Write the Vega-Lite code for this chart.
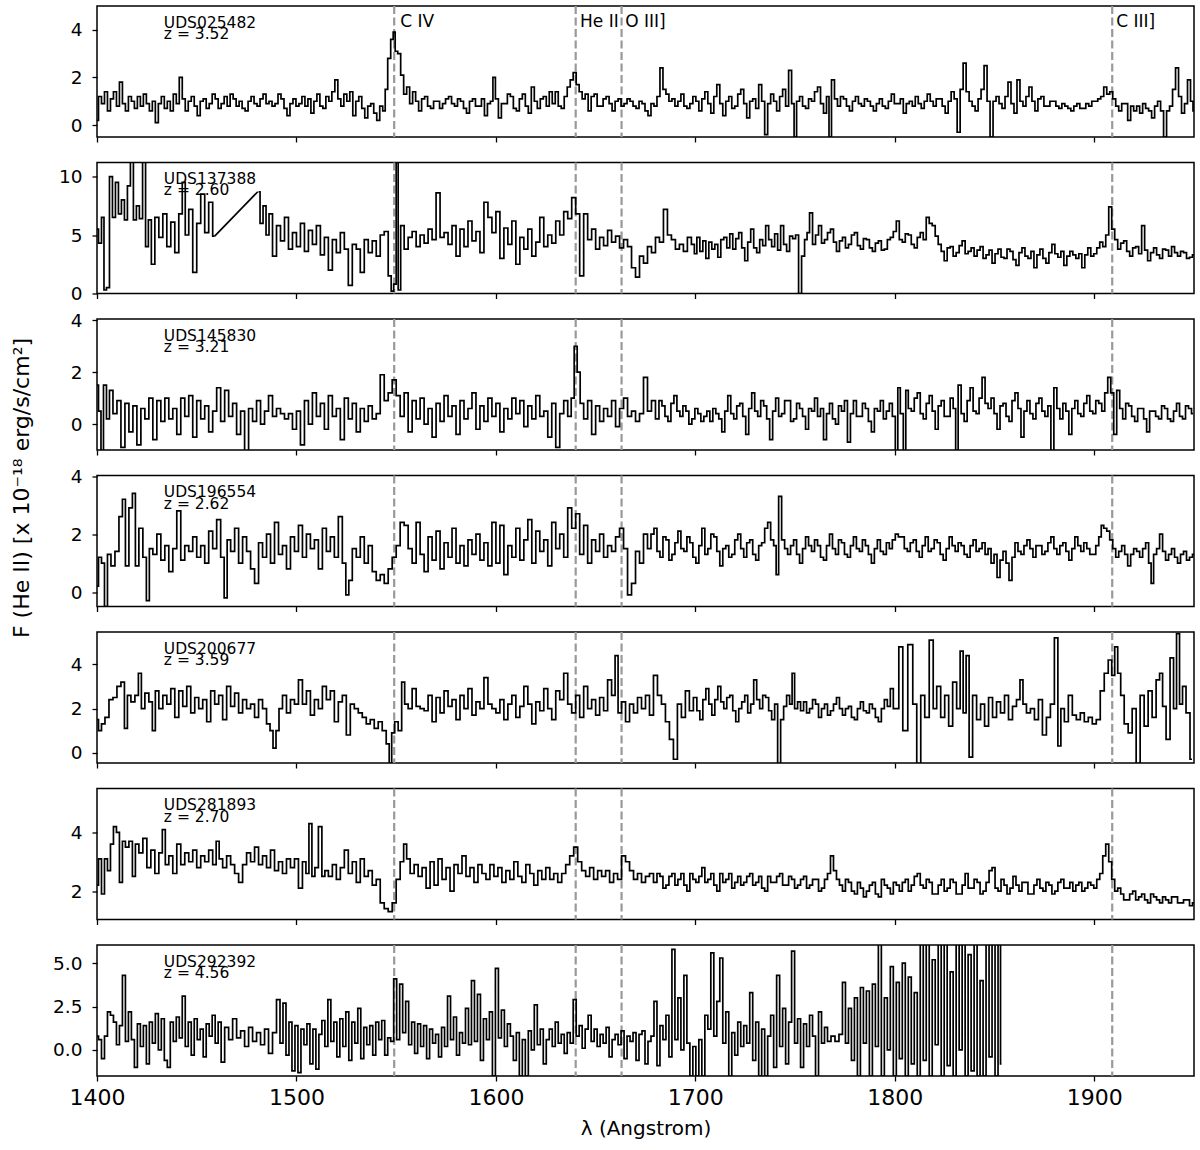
{
"$schema":"https://vega.github.io/schema/vega-lite/v6.json",
"padding":{"left":9,"top":4,"right":5,"bottom":5},
"spacing":25.5,
"bounds":"flush",
"config":{"font":"DejaVu Sans","view":{"stroke":"black","strokeWidth":1.5},
"axis":{"domain":false,"grid":false,"tickColor":"black","tickWidth":1.3,"tickSize":5,"labelColor":"black","labelFont":"DejaVu Sans","titleFont":"DejaVu Sans","titleFontWeight":"normal","titleColor":"black","labelFlush":false,"labelOverlap":false},
"axisY":{"labelFontSize":18.5,"labelPadding":10},
"axisX":{"labelFontSize":22,"labelPadding":6,"format":"d"},
"rule":{"color":"#999999","strokeWidth":2.2,"strokeDash":[8,3.5]},
"text":{"font":"DejaVu Sans","color":"black"}},
"datasets":{
"s1":[{"x":1400,"y":0.2},{"x":1401.5,"y":1.2},{"x":1403,"y":0.9},{"x":1404.5,"y":1.4},{"x":1406,"y":0.6},{"x":1407.5,"y":1.1},{"x":1409,"y":1.4},{"x":1410.5,"y":0.8},{"x":1412,"y":1.8},{"x":1413.5,"y":0.9},{"x":1415,"y":0.6},{"x":1416.5,"y":1.2},{"x":1418,"y":1.0},{"x":1419.5,"y":0.7},{"x":1421,"y":1.2},{"x":1422.5,"y":0.8},{"x":1424,"y":1.3},{"x":1425.5,"y":0.9},{"x":1427,"y":0.6},{"x":1428.5,"y":1.0},{"x":1430,"y":0.1},{"x":1431.5,"y":0.9},{"x":1433,"y":1.2},{"x":1434.5,"y":0.7},{"x":1436,"y":1.0},{"x":1437.5,"y":0.6},{"x":1439,"y":1.3},{"x":1440.5,"y":0.9},{"x":1442,"y":2.0},{"x":1443.5,"y":1.1},{"x":1445,"y":0.6},{"x":1446.5,"y":1.0},{"x":1448,"y":1.2},{"x":1449.5,"y":0.8},{"x":1451,"y":0.4},{"x":1452.5,"y":1.0},{"x":1454,"y":1.1},{"x":1455.5,"y":0.7},{"x":1457,"y":0.9},{"x":1458.5,"y":1.3},{"x":1460,"y":1.1},{"x":1461.5,"y":0.7},{"x":1463,"y":0.9},{"x":1464.5,"y":1.2},{"x":1466,"y":0.8},{"x":1467.5,"y":1.3},{"x":1469,"y":1.1},{"x":1470.5,"y":0.8},{"x":1472,"y":1.0},{"x":1473.5,"y":0.7},{"x":1475,"y":0.6},{"x":1476.5,"y":1.0},{"x":1478,"y":1.2},{"x":1479.5,"y":0.9},{"x":1481,"y":0.8},{"x":1482.5,"y":1.1},{"x":1484,"y":1.3},{"x":1485.5,"y":0.9},{"x":1487,"y":1.0},{"x":1488.5,"y":0.8},{"x":1490,"y":0.9},{"x":1491.5,"y":1.3},{"x":1493,"y":1.1},{"x":1494.5,"y":0.7},{"x":1496,"y":0.4},{"x":1497.5,"y":0.9},{"x":1499,"y":1.1},{"x":1500.5,"y":0.8},{"x":1502,"y":0.9},{"x":1503.5,"y":1.2},{"x":1505,"y":0.8},{"x":1506.5,"y":1.1},{"x":1508,"y":0.5},{"x":1509.5,"y":1.0},{"x":1511,"y":1.3},{"x":1512.5,"y":0.8},{"x":1514,"y":0.7},{"x":1515.5,"y":1.2},{"x":1517,"y":1.0},{"x":1518.5,"y":1.4},{"x":1520,"y":1.9},{"x":1521.5,"y":1.1},{"x":1523,"y":0.8},{"x":1524.5,"y":1.3},{"x":1526,"y":1.0},{"x":1527.5,"y":1.4},{"x":1529,"y":0.4},{"x":1530.5,"y":1.0},{"x":1532,"y":1.2},{"x":1533.5,"y":0.7},{"x":1535,"y":0.3},{"x":1536.5,"y":0.8},{"x":1538,"y":0.9},{"x":1539.5,"y":0.5},{"x":1541,"y":0.2},{"x":1542.5,"y":0.8},{"x":1544,"y":0.6},{"x":1545,"y":1.5},{"x":1546.5,"y":2.8},{"x":1548,"y":3.6},{"x":1549,"y":3.9},{"x":1550,"y":3.1},{"x":1551.5,"y":3.0},{"x":1553,"y":2.1},{"x":1554.5,"y":1.3},{"x":1556,"y":1.6},{"x":1557.5,"y":0.9},{"x":1559,"y":1.4},{"x":1560.5,"y":1.0},{"x":1562,"y":0.6},{"x":1563.5,"y":1.1},{"x":1565,"y":1.2},{"x":1566.5,"y":0.8},{"x":1568,"y":0.7},{"x":1569.5,"y":1.0},{"x":1571,"y":1.0},{"x":1572.5,"y":0.7},{"x":1574,"y":0.9},{"x":1575.5,"y":1.1},{"x":1577,"y":1.2},{"x":1578.5,"y":0.9},{"x":1580,"y":0.8},{"x":1581.5,"y":1.1},{"x":1583,"y":1.0},{"x":1584.5,"y":0.7},{"x":1586,"y":0.5},{"x":1587.5,"y":1.0},{"x":1589,"y":1.1},{"x":1590.5,"y":0.8},{"x":1592,"y":0.8},{"x":1593.5,"y":1.1},{"x":1595,"y":0.4},{"x":1596.5,"y":0.9},{"x":1598,"y":1.0},{"x":1599,"y":2.0},{"x":1600.5,"y":1.1},{"x":1602,"y":0.3},{"x":1603.5,"y":0.9},{"x":1605,"y":0.9},{"x":1606.5,"y":1.3},{"x":1608,"y":1.2},{"x":1609.5,"y":0.7},{"x":1611,"y":0.6},{"x":1612.5,"y":1.1},{"x":1614,"y":1.3},{"x":1615.5,"y":0.8},{"x":1617,"y":0.5},{"x":1618.5,"y":1.6},{"x":1620,"y":1.0},{"x":1621.5,"y":0.7},{"x":1623,"y":1.1},{"x":1624.5,"y":1.2},{"x":1626,"y":0.8},{"x":1627.5,"y":1.4},{"x":1629,"y":0.9},{"x":1630.5,"y":1.4},{"x":1632,"y":0.8},{"x":1633.5,"y":0.7},{"x":1635,"y":1.2},{"x":1636.5,"y":1.6},{"x":1638,"y":1.9},{"x":1639.5,"y":2.2},{"x":1641,"y":1.7},{"x":1642.5,"y":1.4},{"x":1644,"y":1.1},{"x":1645.5,"y":1.3},{"x":1647,"y":0.6},{"x":1648.5,"y":1.2},{"x":1650,"y":1.3},{"x":1651.5,"y":0.8},{"x":1653,"y":0.8},{"x":1654.5,"y":1.1},{"x":1656,"y":1.2},{"x":1657.5,"y":0.9},{"x":1659,"y":0.6},{"x":1660.5,"y":1.0},{"x":1662,"y":1.1},{"x":1663.5,"y":0.8},{"x":1665,"y":0.9},{"x":1666.5,"y":1.1},{"x":1668,"y":1.0},{"x":1669.5,"y":0.8},{"x":1671,"y":0.7},{"x":1672.5,"y":1.0},{"x":1674,"y":0.9},{"x":1675.5,"y":0.6},{"x":1677,"y":0.4},{"x":1678.5,"y":0.9},{"x":1680,"y":0.8},{"x":1681.5,"y":1.2},{"x":1683,"y":2.4},{"x":1684.5,"y":1.5},{"x":1686,"y":1.3},{"x":1687.5,"y":1.0},{"x":1689,"y":1.1},{"x":1690.5,"y":0.8},{"x":1692,"y":1.0},{"x":1693.5,"y":1.3},{"x":1695,"y":0.8},{"x":1696.5,"y":0.7},{"x":1698,"y":0.9},{"x":1699.5,"y":1.2},{"x":1701,"y":1.0},{"x":1702.5,"y":0.6},{"x":1704,"y":1.1},{"x":1705.5,"y":1.4},{"x":1707,"y":0.9},{"x":1708.5,"y":0.5},{"x":1710,"y":1.2},{"x":1711.5,"y":1.7},{"x":1713,"y":0.9},{"x":1714.5,"y":0.4},{"x":1716,"y":1.0},{"x":1717.5,"y":1.2},{"x":1719,"y":0.7},{"x":1720.5,"y":0.8},{"x":1722,"y":1.3},{"x":1723.5,"y":1.5},{"x":1725,"y":0.9},{"x":1726.5,"y":0.3},{"x":1728,"y":1.0},{"x":1729.5,"y":1.1},{"x":1731,"y":0.7},{"x":1732.5,"y":1.7},{"x":1734,"y":1.0},{"x":1735.5,"y":-0.4},{"x":1737,"y":0.9},{"x":1738.5,"y":1.3},{"x":1740,"y":1.0},{"x":1741.5,"y":0.6},{"x":1743,"y":1.2},{"x":1744.5,"y":1.5},{"x":1746,"y":0.8},{"x":1747.5,"y":2.3},{"x":1749,"y":0.9},{"x":1750,"y":-0.5},{"x":1751.5,"y":1.0},{"x":1753,"y":1.2},{"x":1754.5,"y":0.8},{"x":1756,"y":0.7},{"x":1757.5,"y":1.1},{"x":1759,"y":1.0},{"x":1760.5,"y":1.4},{"x":1762,"y":1.6},{"x":1763.5,"y":0.9},{"x":1765,"y":0.5},{"x":1766.5,"y":1.2},{"x":1767.5,"y":-0.5},{"x":1769,"y":1.9},{"x":1770.5,"y":1.1},{"x":1772,"y":0.8},{"x":1773.5,"y":1.2},{"x":1775,"y":1.1},{"x":1776.5,"y":0.8},{"x":1778,"y":0.6},{"x":1779.5,"y":1.0},{"x":1781,"y":1.2},{"x":1782.5,"y":0.9},{"x":1784,"y":0.8},{"x":1785.5,"y":1.1},{"x":1787,"y":1.0},{"x":1788.5,"y":0.8},{"x":1790,"y":0.6},{"x":1791.5,"y":0.9},{"x":1793,"y":1.1},{"x":1794.5,"y":0.8},{"x":1796,"y":0.7},{"x":1797.5,"y":1.0},{"x":1799,"y":1.3},{"x":1800.5,"y":0.9},{"x":1802,"y":0.9},{"x":1803.5,"y":1.1},{"x":1805,"y":0.5},{"x":1806.5,"y":0.9},{"x":1808,"y":1.0},{"x":1809.5,"y":0.8},{"x":1811,"y":1.2},{"x":1812.5,"y":0.9},{"x":1814,"y":0.7},{"x":1815.5,"y":1.0},{"x":1817,"y":1.3},{"x":1818.5,"y":1.0},{"x":1820,"y":0.8},{"x":1821.5,"y":1.1},{"x":1823,"y":1.1},{"x":1824.5,"y":0.8},{"x":1826,"y":0.5},{"x":1827.5,"y":1.0},{"x":1829,"y":1.4},{"x":1830.5,"y":1.1},{"x":1832,"y":-0.3},{"x":1833.5,"y":1.5},{"x":1835,"y":2.6},{"x":1836.5,"y":1.4},{"x":1838,"y":1.0},{"x":1839.5,"y":0.8},{"x":1841,"y":0.6},{"x":1842.5,"y":1.1},{"x":1844,"y":1.5},{"x":1845.5,"y":2.5},{"x":1847,"y":1.0},{"x":1848.5,"y":-0.5},{"x":1850,"y":1.0},{"x":1851.5,"y":1.2},{"x":1853,"y":0.9},{"x":1854.5,"y":0.7},{"x":1856,"y":1.2},{"x":1857.5,"y":1.8},{"x":1859,"y":0.9},{"x":1860.5,"y":0.5},{"x":1862,"y":1.9},{"x":1863.5,"y":1.0},{"x":1865,"y":0.8},{"x":1866.5,"y":1.2},{"x":1868,"y":1.6},{"x":1869.5,"y":1.0},{"x":1871,"y":0.6},{"x":1872.5,"y":1.1},{"x":1874,"y":1.2},{"x":1875.5,"y":0.8},{"x":1877,"y":0.8},{"x":1878.5,"y":1.0},{"x":1880,"y":1.0},{"x":1881.5,"y":0.8},{"x":1883,"y":0.7},{"x":1884.5,"y":0.9},{"x":1886,"y":0.8},{"x":1887.5,"y":0.7},{"x":1889,"y":0.6},{"x":1890.5,"y":0.8},{"x":1892,"y":0.9},{"x":1893.5,"y":0.7},{"x":1895,"y":0.7},{"x":1896.5,"y":0.9},{"x":1898,"y":0.8},{"x":1899.5,"y":1.0},{"x":1901,"y":1.0},{"x":1902.5,"y":1.1},{"x":1904,"y":1.2},{"x":1905.5,"y":1.6},{"x":1907,"y":1.3},{"x":1908.5,"y":1.4},{"x":1910,"y":1.1},{"x":1911.5,"y":0.8},{"x":1913,"y":0.6},{"x":1914.5,"y":0.9},{"x":1916,"y":0.9},{"x":1917.5,"y":0.2},{"x":1919,"y":0.8},{"x":1920.5,"y":0.6},{"x":1922,"y":0.8},{"x":1923.5,"y":0.5},{"x":1925,"y":0.9},{"x":1926.5,"y":0.7},{"x":1928,"y":0.6},{"x":1929.5,"y":0.3},{"x":1931,"y":0.8},{"x":1932.5,"y":1.0},{"x":1934,"y":0.6},{"x":1935.5,"y":-0.5},{"x":1937,"y":0.6},{"x":1938.5,"y":0.8},{"x":1940,"y":1.5},{"x":1941.5,"y":2.4},{"x":1943,"y":1.2},{"x":1944.5,"y":0.5},{"x":1946,"y":0.9},{"x":1947.5,"y":1.9},{"x":1949,"y":1.0},{"x":1950,"y":0.6}],
"s2a":[{"x":1400,"y":5.5},{"x":1401.5,"y":4.3},{"x":1403,"y":6.5},{"x":1404,"y":0.3},{"x":1405.5,"y":0.5},{"x":1407,"y":10.0},{"x":1408.5,"y":6.5},{"x":1410,"y":9.5},{"x":1411.5,"y":6.8},{"x":1413,"y":8.0},{"x":1414.5,"y":6.3},{"x":1416,"y":9.2},{"x":1417.5,"y":11.5},{"x":1419,"y":6.3},{"x":1420.5,"y":7.5},{"x":1422,"y":6.4},{"x":1423.7,"y":11.5},{"x":1425,"y":4.0},{"x":1426.5,"y":6.3},{"x":1428,"y":2.5},{"x":1430,"y":6.5},{"x":1432,"y":4.8},{"x":1434,"y":6.8},{"x":1436,"y":4.0},{"x":1438,"y":6.1},{"x":1440,"y":3.5},{"x":1442,"y":6.8},{"x":1443.5,"y":9.5},{"x":1445,"y":5.0},{"x":1447,"y":7.2},{"x":1449,"y":1.8},{"x":1451,"y":6.0},{"x":1453,"y":8.5},{"x":1455,"y":5.2},{"x":1457,"y":7.8},{"x":1459,"y":4.9}],
"s2g":[{"x":1459,"y":4.9},{"x":1480.6,"y":8.7}],
"s2b":[{"x":1481,"y":8.7},{"x":1482.5,"y":6.0},{"x":1484,"y":7.5},{"x":1485.5,"y":5.0},{"x":1487,"y":6.8},{"x":1489,"y":3.2},{"x":1491,"y":5.8},{"x":1493,"y":4.5},{"x":1495,"y":6.5},{"x":1497,"y":3.8},{"x":1499,"y":5.2},{"x":1501,"y":4.0},{"x":1503,"y":6.0},{"x":1505,"y":3.6},{"x":1507,"y":5.4},{"x":1509,"y":4.2},{"x":1511,"y":5.8},{"x":1513,"y":3.3},{"x":1515,"y":4.8},{"x":1517,"y":2.0},{"x":1519,"y":4.6},{"x":1521,"y":3.5},{"x":1523,"y":5.2},{"x":1525,"y":3.8},{"x":1527,"y":0.7},{"x":1529,"y":4.2},{"x":1531,"y":3.8},{"x":1533,"y":1.8},{"x":1535,"y":4.6},{"x":1537,"y":3.5},{"x":1539,"y":4.5},{"x":1541,"y":3.2},{"x":1543,"y":5.0},{"x":1545,"y":5.3},{"x":1547,"y":1.5},{"x":1548,"y":0.2},{"x":1549.5,"y":0.8},{"x":1550.5,"y":11.5},{"x":1551.5,"y":0.3},{"x":1553,"y":5.8},{"x":1555,"y":3.8},{"x":1557,"y":4.8},{"x":1559,"y":5.3},{"x":1561,"y":4.0},{"x":1563,"y":5.0},{"x":1565,"y":4.3},{"x":1567,"y":5.5},{"x":1569,"y":4.6},{"x":1571,"y":8.6},{"x":1573,"y":4.8},{"x":1575,"y":5.2},{"x":1577,"y":4.2},{"x":1579,"y":5.8},{"x":1581,"y":3.2},{"x":1583,"y":5.5},{"x":1585,"y":4.0},{"x":1587,"y":6.2},{"x":1589,"y":4.5},{"x":1591,"y":5.3},{"x":1593,"y":3.5},{"x":1595,"y":7.8},{"x":1597,"y":6.5},{"x":1599,"y":5.2},{"x":1601,"y":7.0},{"x":1603,"y":3.0},{"x":1605,"y":5.6},{"x":1607,"y":4.2},{"x":1609,"y":6.2},{"x":1611,"y":2.5},{"x":1613,"y":4.8},{"x":1615,"y":3.8},{"x":1617,"y":5.5},{"x":1619,"y":3.2},{"x":1621,"y":4.4},{"x":1623,"y":6.5},{"x":1625,"y":4.0},{"x":1627,"y":5.0},{"x":1629,"y":4.3},{"x":1631,"y":6.2},{"x":1633,"y":5.0},{"x":1635,"y":7.0},{"x":1637,"y":6.4},{"x":1639,"y":8.2},{"x":1641,"y":6.8},{"x":1643,"y":1.5},{"x":1645,"y":6.8},{"x":1647,"y":4.6},{"x":1649,"y":5.5},{"x":1651,"y":3.8},{"x":1653,"y":4.8},{"x":1655,"y":4.1},{"x":1657,"y":5.4},{"x":1659,"y":4.4},{"x":1661,"y":4.9},{"x":1663,"y":3.9},{"x":1665,"y":4.6},{"x":1667,"y":4.0},{"x":1669,"y":2.2},{"x":1671,"y":1.4},{"x":1673,"y":3.2},{"x":1675,"y":2.6},{"x":1677,"y":4.0},{"x":1679,"y":3.5},{"x":1681,"y":4.8},{"x":1683,"y":4.4},{"x":1685,"y":7.2},{"x":1687,"y":5.0},{"x":1689,"y":4.6},{"x":1691,"y":3.8},{"x":1693,"y":4.2},{"x":1695,"y":3.6},{"x":1697,"y":4.8},{"x":1699,"y":4.2},{"x":1700,"y":3.4},{"x":1701.5,"y":4.8},{"x":1703,"y":3.6},{"x":1704.5,"y":4.5},{"x":1706,"y":3.0},{"x":1707.5,"y":4.4},{"x":1709,"y":3.8},{"x":1710.5,"y":4.2},{"x":1712,"y":3.1},{"x":1713.5,"y":4.6},{"x":1715,"y":4.8},{"x":1716.5,"y":3.9},{"x":1718,"y":5.1},{"x":1719.5,"y":3.8},{"x":1721,"y":4.7},{"x":1722.5,"y":5.2},{"x":1724,"y":3.9},{"x":1725.5,"y":2.8},{"x":1727,"y":4.4},{"x":1728.5,"y":5.5},{"x":1730,"y":3.9},{"x":1731.5,"y":3.5},{"x":1733,"y":4.6},{"x":1734.5,"y":4.1},{"x":1736,"y":5.8},{"x":1737.5,"y":4.6},{"x":1739,"y":4.0},{"x":1740.5,"y":5.1},{"x":1742,"y":3.7},{"x":1743.5,"y":5.8},{"x":1745,"y":4.2},{"x":1746.5,"y":3.6},{"x":1748,"y":4.9},{"x":1749.5,"y":4.7},{"x":1751,"y":5.0},{"x":1752.5,"y":0.0},{"x":1754,"y":3.2},{"x":1755.5,"y":4.6},{"x":1756.5,"y":5.2},{"x":1758,"y":6.9},{"x":1759.5,"y":4.2},{"x":1761,"y":5.0},{"x":1762.5,"y":5.8},{"x":1764,"y":4.3},{"x":1765.5,"y":4.6},{"x":1767,"y":5.2},{"x":1768.5,"y":5.5},{"x":1770,"y":4.4},{"x":1771.5,"y":3.6},{"x":1773,"y":4.5},{"x":1774.5,"y":4.8},{"x":1776,"y":3.9},{"x":1777.5,"y":4.2},{"x":1779,"y":5.0},{"x":1780.5,"y":5.2},{"x":1782,"y":4.1},{"x":1783.5,"y":3.8},{"x":1785,"y":4.7},{"x":1786.5,"y":4.6},{"x":1788,"y":3.9},{"x":1789.5,"y":3.6},{"x":1791,"y":4.3},{"x":1792.5,"y":4.5},{"x":1794,"y":3.7},{"x":1795.5,"y":3.8},{"x":1797,"y":4.6},{"x":1798.5,"y":4.8},{"x":1800,"y":5.3},{"x":1801.5,"y":6.2},{"x":1803,"y":4.6},{"x":1804.5,"y":4.4},{"x":1806,"y":5.1},{"x":1807.5,"y":5.0},{"x":1809,"y":4.2},{"x":1810.5,"y":3.9},{"x":1812,"y":4.8},{"x":1813.5,"y":5.2},{"x":1815,"y":4.6},{"x":1816.5,"y":6.5},{"x":1818,"y":6.0},{"x":1819.5,"y":5.8},{"x":1821,"y":4.9},{"x":1822.5,"y":4.2},{"x":1824,"y":3.6},{"x":1825.5,"y":2.8},{"x":1827,"y":3.9},{"x":1828.5,"y":4.0},{"x":1830,"y":3.2},{"x":1831.5,"y":3.5},{"x":1833,"y":4.1},{"x":1834.5,"y":4.5},{"x":1836,"y":3.4},{"x":1837.5,"y":3.6},{"x":1839,"y":3.9},{"x":1840.5,"y":3.2},{"x":1842,"y":3.7},{"x":1843.5,"y":4.0},{"x":1845,"y":3.0},{"x":1846.5,"y":3.3},{"x":1848,"y":3.7},{"x":1849.5,"y":2.6},{"x":1851,"y":3.4},{"x":1852.5,"y":3.8},{"x":1854,"y":3.1},{"x":1855.5,"y":3.0},{"x":1857,"y":3.8},{"x":1858.5,"y":3.6},{"x":1860,"y":2.9},{"x":1861.5,"y":2.4},{"x":1863,"y":3.5},{"x":1864.5,"y":3.9},{"x":1866,"y":3.2},{"x":1867.5,"y":3.0},{"x":1869,"y":3.6},{"x":1870.5,"y":2.2},{"x":1872,"y":3.3},{"x":1873.5,"y":3.8},{"x":1875,"y":3.0},{"x":1876.5,"y":2.6},{"x":1878,"y":3.5},{"x":1879.5,"y":4.2},{"x":1881,"y":3.4},{"x":1882.5,"y":3.1},{"x":1884,"y":3.6},{"x":1885.5,"y":2.4},{"x":1887,"y":3.2},{"x":1888.5,"y":3.6},{"x":1890,"y":3.3},{"x":1891.5,"y":3.0},{"x":1893,"y":3.4},{"x":1894.5,"y":2.2},{"x":1896,"y":3.3},{"x":1897.5,"y":3.9},{"x":1899,"y":3.2},{"x":1900.5,"y":3.4},{"x":1902,"y":3.9},{"x":1903.5,"y":4.4},{"x":1905,"y":4.0},{"x":1906.5,"y":5.0},{"x":1908,"y":7.4},{"x":1909.5,"y":5.5},{"x":1911,"y":4.6},{"x":1912.5,"y":3.8},{"x":1914,"y":4.3},{"x":1915.5,"y":4.5},{"x":1917,"y":3.6},{"x":1918.5,"y":3.2},{"x":1920,"y":3.9},{"x":1921.5,"y":4.0},{"x":1923,"y":3.4},{"x":1924.5,"y":5.8},{"x":1926,"y":3.7},{"x":1927.5,"y":2.8},{"x":1929,"y":3.5},{"x":1930.5,"y":3.9},{"x":1932,"y":3.3},{"x":1933.5,"y":3.0},{"x":1935,"y":3.8},{"x":1936.5,"y":3.7},{"x":1938,"y":3.2},{"x":1939.5,"y":4.0},{"x":1941,"y":3.5},{"x":1942.5,"y":3.2},{"x":1944,"y":3.6},{"x":1945.5,"y":3.5},{"x":1947,"y":3.0},{"x":1948.5,"y":3.1},{"x":1950,"y":3.3}],
"s3":[{"x":1400,"y":1.5},{"x":1401.5,"y":0.5},{"x":1402.5,"y":-1.2},{"x":1404,"y":1.5},{"x":1405.5,"y":0.2},{"x":1407,"y":1.3},{"x":1409,"y":0.4},{"x":1411,"y":0.9},{"x":1413,"y":-0.9},{"x":1415,"y":0.8},{"x":1417,"y":-0.3},{"x":1419,"y":0.7},{"x":1421,"y":-0.8},{"x":1423,"y":0.6},{"x":1425,"y":0.2},{"x":1427,"y":1.0},{"x":1429,"y":-0.6},{"x":1431,"y":0.9},{"x":1433,"y":0.1},{"x":1435,"y":1.0},{"x":1437,"y":0.2},{"x":1439,"y":0.6},{"x":1441,"y":-0.4},{"x":1443,"y":1.0},{"x":1445,"y":0.3},{"x":1447,"y":1.1},{"x":1449,"y":-0.5},{"x":1451,"y":0.9},{"x":1453,"y":0.2},{"x":1455,"y":0.7},{"x":1457,"y":-0.3},{"x":1459,"y":0.5},{"x":1461,"y":1.4},{"x":1463,"y":0.1},{"x":1465,"y":1.3},{"x":1467,"y":0.3},{"x":1469,"y":0.8},{"x":1471,"y":-0.4},{"x":1473,"y":0.5},{"x":1475,"y":-1.1},{"x":1477,"y":0.6},{"x":1479,"y":0.1},{"x":1481,"y":0.9},{"x":1483,"y":0.0},{"x":1485,"y":0.5},{"x":1487,"y":1.1},{"x":1489,"y":0.3},{"x":1491,"y":0.6},{"x":1493,"y":0.4},{"x":1495,"y":0.2},{"x":1497,"y":0.4},{"x":1499,"y":-0.2},{"x":1501,"y":0.5},{"x":1503,"y":-0.8},{"x":1505,"y":0.9},{"x":1507,"y":0.0},{"x":1509,"y":1.2},{"x":1511,"y":0.3},{"x":1513,"y":0.8},{"x":1515,"y":-0.2},{"x":1517,"y":1.1},{"x":1519,"y":0.3},{"x":1521,"y":0.6},{"x":1523,"y":-0.6},{"x":1525,"y":1.0},{"x":1527,"y":0.2},{"x":1529,"y":0.8},{"x":1531,"y":-0.3},{"x":1533,"y":0.6},{"x":1535,"y":0.1},{"x":1537,"y":0.7},{"x":1539,"y":0.2},{"x":1541,"y":0.4},{"x":1543,"y":1.9},{"x":1545,"y":0.9},{"x":1547,"y":1.2},{"x":1549,"y":1.7},{"x":1551,"y":1.1},{"x":1553,"y":0.3},{"x":1555,"y":1.2},{"x":1557,"y":-0.3},{"x":1559,"y":0.9},{"x":1561,"y":0.2},{"x":1563,"y":1.0},{"x":1565,"y":0.0},{"x":1567,"y":0.6},{"x":1569,"y":-0.5},{"x":1571,"y":0.8},{"x":1573,"y":0.1},{"x":1575,"y":1.1},{"x":1577,"y":0.3},{"x":1579,"y":0.7},{"x":1581,"y":-0.4},{"x":1583,"y":0.9},{"x":1585,"y":0.2},{"x":1587,"y":0.6},{"x":1589,"y":1.2},{"x":1591,"y":-0.2},{"x":1593,"y":0.7},{"x":1595,"y":0.1},{"x":1597,"y":1.0},{"x":1599,"y":0.3},{"x":1601,"y":0.8},{"x":1603,"y":-0.3},{"x":1605,"y":0.6},{"x":1607,"y":0.2},{"x":1609,"y":1.0},{"x":1611,"y":0.4},{"x":1613,"y":0.9},{"x":1615,"y":-0.1},{"x":1617,"y":0.7},{"x":1619,"y":0.2},{"x":1621,"y":1.1},{"x":1623,"y":0.3},{"x":1625,"y":0.5},{"x":1627,"y":-0.5},{"x":1629,"y":0.8},{"x":1631,"y":-0.9},{"x":1633,"y":0.4},{"x":1635,"y":0.9},{"x":1637,"y":0.3},{"x":1638.5,"y":1.0},{"x":1640,"y":3.0},{"x":1641.5,"y":2.0},{"x":1643,"y":0.8},{"x":1645,"y":0.2},{"x":1647,"y":0.9},{"x":1649,"y":-0.4},{"x":1651,"y":0.7},{"x":1653,"y":0.1},{"x":1655,"y":0.6},{"x":1657,"y":0.3},{"x":1659,"y":0.9},{"x":1661,"y":-0.1},{"x":1663,"y":0.6},{"x":1665,"y":1.0},{"x":1667,"y":0.3},{"x":1669,"y":0.5},{"x":1671,"y":0.1},{"x":1673,"y":0.4},{"x":1675,"y":1.8},{"x":1677,"y":0.5},{"x":1679,"y":0.9},{"x":1681,"y":0.2},{"x":1682.5,"y":0.9},{"x":1684,"y":0.7},{"x":1685.5,"y":0.3},{"x":1687,"y":0.1},{"x":1688.5,"y":0.8},{"x":1690,"y":1.1},{"x":1691.5,"y":0.5},{"x":1693,"y":0.3},{"x":1694.5,"y":0.7},{"x":1696,"y":0.5},{"x":1697.5,"y":0.0},{"x":1699,"y":0.2},{"x":1700.5,"y":0.6},{"x":1702,"y":0.4},{"x":1703.5,"y":0.1},{"x":1705,"y":0.3},{"x":1706.5,"y":0.5},{"x":1708,"y":0.1},{"x":1709.5,"y":0.6},{"x":1711,"y":0.4},{"x":1712.5,"y":0.2},{"x":1714,"y":-0.3},{"x":1715.5,"y":0.5},{"x":1717,"y":1.1},{"x":1718.5,"y":0.4},{"x":1720,"y":0.2},{"x":1721.5,"y":0.7},{"x":1723,"y":0.8},{"x":1724.5,"y":0.3},{"x":1726,"y":-0.4},{"x":1727.5,"y":0.6},{"x":1729,"y":1.2},{"x":1730.5,"y":0.5},{"x":1732,"y":0.3},{"x":1733.5,"y":0.9},{"x":1735,"y":0.7},{"x":1736.5,"y":0.2},{"x":1738,"y":-0.6},{"x":1739.5,"y":0.5},{"x":1741,"y":1.0},{"x":1742.5,"y":0.3},{"x":1744,"y":0.4},{"x":1745.5,"y":0.9},{"x":1747,"y":0.9},{"x":1748.5,"y":0.1},{"x":1750,"y":0.2},{"x":1751.5,"y":0.8},{"x":1753,"y":0.6},{"x":1754.5,"y":0.3},{"x":1756,"y":-0.2},{"x":1757.5,"y":0.6},{"x":1759,"y":0.5},{"x":1760.5,"y":1.0},{"x":1762,"y":0.3},{"x":1763.5,"y":0.6},{"x":1765,"y":-0.6},{"x":1766.5,"y":0.4},{"x":1768,"y":0.8},{"x":1769.5,"y":0.2},{"x":1771,"y":0.0},{"x":1772.5,"y":0.7},{"x":1774,"y":0.5},{"x":1775.5,"y":0.9},{"x":1777,"y":-0.7},{"x":1778.5,"y":0.4},{"x":1780,"y":0.9},{"x":1781.5,"y":0.3},{"x":1783,"y":0.3},{"x":1784.5,"y":0.8},{"x":1786,"y":0.6},{"x":1787.5,"y":0.1},{"x":1789,"y":-0.3},{"x":1790.5,"y":0.6},{"x":1792,"y":0.5},{"x":1793.5,"y":0.9},{"x":1795,"y":0.2},{"x":1796.5,"y":0.5},{"x":1798,"y":0.8},{"x":1799.5,"y":0.3},{"x":1801,"y":-1.1},{"x":1802,"y":1.4},{"x":1803.5,"y":0.4},{"x":1805,"y":-1.1},{"x":1806,"y":1.3},{"x":1807.5,"y":0.6},{"x":1809,"y":0.5},{"x":1810.5,"y":1.0},{"x":1812,"y":1.2},{"x":1813.5,"y":0.4},{"x":1815,"y":0.2},{"x":1816.5,"y":0.8},{"x":1818,"y":1.1},{"x":1819.5,"y":0.5},{"x":1821,"y":-0.2},{"x":1822.5,"y":0.7},{"x":1824,"y":0.9},{"x":1825.5,"y":0.3},{"x":1827,"y":0.3},{"x":1828.5,"y":1.0},{"x":1830,"y":0.6},{"x":1831,"y":-1.1},{"x":1832.5,"y":1.5},{"x":1834,"y":0.4},{"x":1835.5,"y":0.1},{"x":1837,"y":0.9},{"x":1838.5,"y":1.4},{"x":1840,"y":0.5},{"x":1841.5,"y":0.4},{"x":1843,"y":1.0},{"x":1844.5,"y":1.8},{"x":1846,"y":0.8},{"x":1847.5,"y":0.6},{"x":1849,"y":1.0},{"x":1850.5,"y":0.4},{"x":1852,"y":-0.2},{"x":1853.5,"y":0.7},{"x":1855,"y":0.8},{"x":1856.5,"y":0.3},{"x":1858,"y":0.1},{"x":1859.5,"y":0.9},{"x":1861,"y":1.2},{"x":1862.5,"y":0.6},{"x":1864,"y":-0.5},{"x":1865.5,"y":0.5},{"x":1867,"y":0.9},{"x":1868.5,"y":0.4},{"x":1870,"y":0.2},{"x":1871.5,"y":0.8},{"x":1873,"y":1.0},{"x":1874.5,"y":0.5},{"x":1876,"y":0.3},{"x":1877.5,"y":0.7},{"x":1879,"y":-1.1},{"x":1880.5,"y":1.4},{"x":1882,"y":0.6},{"x":1883.5,"y":0.2},{"x":1885,"y":0.8},{"x":1886.5,"y":0.5},{"x":1888,"y":-0.4},{"x":1889.5,"y":0.6},{"x":1891,"y":0.9},{"x":1892.5,"y":0.4},{"x":1894,"y":0.3},{"x":1895.5,"y":0.8},{"x":1897,"y":1.1},{"x":1898.5,"y":0.5},{"x":1900,"y":0.4},{"x":1901.5,"y":0.9},{"x":1903,"y":0.8},{"x":1904.5,"y":0.5},{"x":1906,"y":1.2},{"x":1907.5,"y":1.8},{"x":1909,"y":1.2},{"x":1910.5,"y":-0.4},{"x":1912,"y":1.3},{"x":1913.5,"y":0.6},{"x":1915,"y":0.2},{"x":1916.5,"y":0.8},{"x":1918,"y":0.7},{"x":1919.5,"y":0.3},{"x":1921,"y":0.1},{"x":1922.5,"y":0.6},{"x":1924,"y":0.6},{"x":1925.5,"y":0.2},{"x":1927,"y":-0.3},{"x":1928.5,"y":0.5},{"x":1930,"y":0.5},{"x":1931.5,"y":0.3},{"x":1933,"y":0.2},{"x":1934.5,"y":0.7},{"x":1936,"y":0.6},{"x":1937.5,"y":0.2},{"x":1939,"y":0.1},{"x":1940.5,"y":0.5},{"x":1942,"y":0.8},{"x":1943.5,"y":0.3},{"x":1945,"y":0.2},{"x":1946.5,"y":0.7},{"x":1948,"y":0.6},{"x":1949.5,"y":0.4}],
"s4":[{"x":1400,"y":0.2},{"x":1401.5,"y":1.2},{"x":1403,"y":1.0},{"x":1404.5,"y":-0.5},{"x":1406,"y":1.3},{"x":1408,"y":0.9},{"x":1410,"y":1.4},{"x":1412,"y":2.6},{"x":1413.5,"y":3.2},{"x":1415,"y":0.9},{"x":1417,"y":2.9},{"x":1418.5,"y":3.4},{"x":1420,"y":0.9},{"x":1422,"y":2.2},{"x":1424,"y":1.2},{"x":1425.5,"y":-0.3},{"x":1427,"y":1.5},{"x":1429,"y":1.3},{"x":1431,"y":2.0},{"x":1433,"y":1.1},{"x":1435,"y":1.6},{"x":1437,"y":0.7},{"x":1439,"y":1.5},{"x":1441,"y":2.8},{"x":1443,"y":1.1},{"x":1445,"y":1.6},{"x":1447,"y":1.4},{"x":1449,"y":1.9},{"x":1451,"y":1.2},{"x":1453,"y":1.6},{"x":1455,"y":1.0},{"x":1457,"y":2.1},{"x":1459,"y":1.5},{"x":1461,"y":2.5},{"x":1463,"y":1.2},{"x":1464.5,"y":-0.2},{"x":1466,"y":1.8},{"x":1468,"y":1.4},{"x":1470,"y":2.2},{"x":1472,"y":1.0},{"x":1474,"y":1.9},{"x":1476,"y":1.4},{"x":1478,"y":0.8},{"x":1480,"y":0.3},{"x":1482,"y":1.7},{"x":1484,"y":1.2},{"x":1486,"y":2.0},{"x":1488,"y":1.0},{"x":1490,"y":2.4},{"x":1492,"y":1.3},{"x":1494,"y":1.6},{"x":1496,"y":0.8},{"x":1498,"y":1.9},{"x":1500,"y":1.4},{"x":1502,"y":2.3},{"x":1504,"y":1.2},{"x":1506,"y":2.0},{"x":1508,"y":1.5},{"x":1510,"y":1.8},{"x":1512,"y":0.8},{"x":1514,"y":2.2},{"x":1516,"y":1.4},{"x":1518,"y":1.9},{"x":1520,"y":1.2},{"x":1522,"y":2.6},{"x":1524,"y":1.0},{"x":1525.5,"y":-0.1},{"x":1527,"y":0.4},{"x":1529,"y":1.5},{"x":1531,"y":1.2},{"x":1533,"y":1.9},{"x":1535,"y":1.0},{"x":1537,"y":1.6},{"x":1539,"y":0.7},{"x":1541,"y":0.4},{"x":1543,"y":0.6},{"x":1545,"y":0.3},{"x":1547,"y":0.8},{"x":1549,"y":1.2},{"x":1551,"y":1.6},{"x":1553,"y":2.4},{"x":1555,"y":2.3},{"x":1557,"y":1.5},{"x":1559,"y":1.0},{"x":1561,"y":2.4},{"x":1563,"y":1.3},{"x":1565,"y":0.7},{"x":1567,"y":1.9},{"x":1569,"y":1.1},{"x":1571,"y":2.1},{"x":1573,"y":0.8},{"x":1575,"y":1.7},{"x":1577,"y":1.2},{"x":1579,"y":2.2},{"x":1581,"y":1.0},{"x":1583,"y":1.6},{"x":1585,"y":0.9},{"x":1587,"y":1.8},{"x":1589,"y":1.3},{"x":1591,"y":2.0},{"x":1593,"y":1.1},{"x":1595,"y":1.7},{"x":1597,"y":0.9},{"x":1599,"y":2.4},{"x":1601,"y":1.0},{"x":1603,"y":2.3},{"x":1605,"y":0.6},{"x":1607,"y":1.6},{"x":1609,"y":1.2},{"x":1611,"y":2.2},{"x":1613,"y":1.1},{"x":1615,"y":1.8},{"x":1617,"y":2.5},{"x":1619,"y":1.0},{"x":1621,"y":2.1},{"x":1623,"y":1.4},{"x":1625,"y":1.8},{"x":1627,"y":0.9},{"x":1629,"y":2.4},{"x":1631,"y":1.5},{"x":1633,"y":2.0},{"x":1635,"y":1.2},{"x":1637,"y":2.9},{"x":1639,"y":2.2},{"x":1641,"y":2.7},{"x":1643,"y":1.3},{"x":1645,"y":2.3},{"x":1647,"y":1.0},{"x":1649,"y":1.8},{"x":1651,"y":1.4},{"x":1653,"y":2.0},{"x":1655,"y":1.2},{"x":1657,"y":1.6},{"x":1659,"y":1.4},{"x":1661,"y":1.9},{"x":1663,"y":2.2},{"x":1665,"y":1.5},{"x":1667,"y":-0.1},{"x":1669,"y":0.3},{"x":1671,"y":1.4},{"x":1673,"y":1.0},{"x":1675,"y":2.0},{"x":1677,"y":1.5},{"x":1678.5,"y":2.0},{"x":1680,"y":2.2},{"x":1681.5,"y":1.4},{"x":1683,"y":1.2},{"x":1684.5,"y":1.9},{"x":1686,"y":1.8},{"x":1687.5,"y":1.1},{"x":1689,"y":1.3},{"x":1690.5,"y":1.7},{"x":1692,"y":2.1},{"x":1693.5,"y":1.5},{"x":1695,"y":1.4},{"x":1696.5,"y":1.9},{"x":1698,"y":1.7},{"x":1699.5,"y":1.2},{"x":1701,"y":1.0},{"x":1702.5,"y":1.6},{"x":1704,"y":2.2},{"x":1705.5,"y":1.3},{"x":1707,"y":1.5},{"x":1708.5,"y":2.0},{"x":1710,"y":1.9},{"x":1711.5,"y":1.4},{"x":1713,"y":0.9},{"x":1714.5,"y":1.5},{"x":1716,"y":1.6},{"x":1717.5,"y":1.2},{"x":1719,"y":1.3},{"x":1720.5,"y":1.8},{"x":1722,"y":2.0},{"x":1723.5,"y":1.5},{"x":1725,"y":1.2},{"x":1726.5,"y":1.7},{"x":1728,"y":1.8},{"x":1729.5,"y":1.3},{"x":1731,"y":1.1},{"x":1732.5,"y":1.6},{"x":1734,"y":1.7},{"x":1735.5,"y":2.2},{"x":1737,"y":2.4},{"x":1738.5,"y":1.8},{"x":1740,"y":1.6},{"x":1741,"y":0.6},{"x":1742.5,"y":3.3},{"x":1744,"y":1.8},{"x":1745.5,"y":1.5},{"x":1747,"y":1.3},{"x":1748.5,"y":1.6},{"x":1750,"y":1.8},{"x":1751.5,"y":1.3},{"x":1753,"y":1.0},{"x":1754.5,"y":1.5},{"x":1756,"y":1.9},{"x":1757.5,"y":1.6},{"x":1759,"y":1.4},{"x":1760.5,"y":1.8},{"x":1762,"y":1.6},{"x":1763.5,"y":1.2},{"x":1765,"y":1.1},{"x":1766.5,"y":1.6},{"x":1768,"y":2.0},{"x":1769.5,"y":1.5},{"x":1771,"y":1.3},{"x":1772.5,"y":1.8},{"x":1774,"y":1.7},{"x":1775.5,"y":1.3},{"x":1777,"y":1.2},{"x":1778.5,"y":1.6},{"x":1780,"y":1.9},{"x":1781.5,"y":1.5},{"x":1783,"y":1.4},{"x":1784.5,"y":1.8},{"x":1786,"y":1.6},{"x":1787.5,"y":1.3},{"x":1789,"y":1.0},{"x":1790.5,"y":1.5},{"x":1792,"y":1.8},{"x":1793.5,"y":1.4},{"x":1795,"y":1.3},{"x":1796.5,"y":1.7},{"x":1798,"y":1.5},{"x":1799.5,"y":1.8},{"x":1801,"y":2.0},{"x":1802.5,"y":1.9},{"x":1804,"y":1.9},{"x":1805.5,"y":1.5},{"x":1807,"y":1.4},{"x":1808.5,"y":1.7},{"x":1810,"y":1.8},{"x":1811.5,"y":1.4},{"x":1813,"y":1.2},{"x":1814.5,"y":1.6},{"x":1816,"y":1.9},{"x":1817.5,"y":1.4},{"x":1819,"y":1.5},{"x":1820.5,"y":1.8},{"x":1822,"y":1.7},{"x":1823.5,"y":1.3},{"x":1825,"y":1.1},{"x":1826.5,"y":1.5},{"x":1828,"y":1.9},{"x":1829.5,"y":1.6},{"x":1831,"y":1.4},{"x":1832.5,"y":1.7},{"x":1834,"y":1.6},{"x":1835.5,"y":1.3},{"x":1837,"y":1.2},{"x":1838.5,"y":1.6},{"x":1840,"y":1.8},{"x":1841.5,"y":1.4},{"x":1843,"y":1.5},{"x":1844.5,"y":1.7},{"x":1846,"y":1.3},{"x":1847.5,"y":1.5},{"x":1849,"y":1.0},{"x":1850.5,"y":1.3},{"x":1852,"y":0.5},{"x":1853.5,"y":1.1},{"x":1855,"y":1.4},{"x":1856.5,"y":1.0},{"x":1858,"y":0.4},{"x":1859.5,"y":1.2},{"x":1861,"y":1.7},{"x":1862.5,"y":1.4},{"x":1864,"y":1.3},{"x":1865.5,"y":1.6},{"x":1867,"y":1.8},{"x":1868.5,"y":1.5},{"x":1870,"y":1.2},{"x":1871.5,"y":1.6},{"x":1873,"y":1.6},{"x":1874.5,"y":1.3},{"x":1876,"y":1.4},{"x":1877.5,"y":1.7},{"x":1879,"y":1.9},{"x":1880.5,"y":1.5},{"x":1882,"y":1.3},{"x":1883.5,"y":1.6},{"x":1885,"y":1.7},{"x":1886.5,"y":1.4},{"x":1888,"y":1.1},{"x":1889.5,"y":1.5},{"x":1891,"y":1.9},{"x":1892.5,"y":1.6},{"x":1894,"y":1.4},{"x":1895.5,"y":1.7},{"x":1897,"y":1.5},{"x":1898.5,"y":1.3},{"x":1900,"y":1.3},{"x":1901.5,"y":1.6},{"x":1903,"y":1.9},{"x":1904,"y":2.3},{"x":1905.5,"y":2.2},{"x":1907,"y":2.1},{"x":1908.5,"y":1.8},{"x":1910,"y":1.5},{"x":1911.5,"y":1.2},{"x":1913,"y":1.4},{"x":1914.5,"y":1.6},{"x":1916,"y":1.3},{"x":1917.5,"y":0.9},{"x":1919,"y":1.3},{"x":1920.5,"y":1.5},{"x":1922,"y":1.4},{"x":1923.5,"y":1.2},{"x":1925,"y":1.5},{"x":1926.5,"y":1.7},{"x":1928,"y":1.0},{"x":1929,"y":0.3},{"x":1930.5,"y":1.3},{"x":1932,"y":1.5},{"x":1933.5,"y":2.0},{"x":1935,"y":1.4},{"x":1936.5,"y":1.1},{"x":1938,"y":1.3},{"x":1939.5,"y":1.5},{"x":1941,"y":1.2},{"x":1942.5,"y":1.0},{"x":1944,"y":1.3},{"x":1945.5,"y":1.4},{"x":1947,"y":1.1},{"x":1948.5,"y":1.2},{"x":1950,"y":1.3}],
"s5":[{"x":1400,"y":1.5},{"x":1401.5,"y":1.0},{"x":1403,"y":1.3},{"x":1405,"y":1.6},{"x":1407,"y":2.4},{"x":1409,"y":2.5},{"x":1411,"y":3.0},{"x":1413,"y":3.2},{"x":1414.5,"y":1.1},{"x":1416,"y":2.6},{"x":1418,"y":2.3},{"x":1420,"y":2.6},{"x":1421.5,"y":3.6},{"x":1423,"y":2.0},{"x":1425,"y":2.7},{"x":1427,"y":2.3},{"x":1428.5,"y":1.0},{"x":1430,"y":2.8},{"x":1432,"y":2.0},{"x":1434,"y":2.6},{"x":1436,"y":2.2},{"x":1438,"y":2.9},{"x":1440,"y":1.6},{"x":1442,"y":2.8},{"x":1444,"y":2.1},{"x":1446,"y":3.0},{"x":1448,"y":1.8},{"x":1450,"y":2.5},{"x":1452,"y":2.0},{"x":1454,"y":2.4},{"x":1456,"y":1.4},{"x":1458,"y":2.8},{"x":1460,"y":2.2},{"x":1462,"y":2.6},{"x":1464,"y":1.5},{"x":1466,"y":3.0},{"x":1468,"y":2.1},{"x":1470,"y":2.7},{"x":1472,"y":1.8},{"x":1474,"y":2.4},{"x":1476,"y":2.0},{"x":1478,"y":2.2},{"x":1480,"y":1.6},{"x":1482,"y":2.4},{"x":1484,"y":2.0},{"x":1486,"y":1.3},{"x":1487.5,"y":1.0},{"x":1489,"y":0.2},{"x":1490.5,"y":1.0},{"x":1492,"y":2.0},{"x":1494,"y":2.6},{"x":1496,"y":1.8},{"x":1498,"y":2.4},{"x":1500,"y":2.2},{"x":1502,"y":3.3},{"x":1504,"y":2.2},{"x":1506,"y":2.8},{"x":1508,"y":1.7},{"x":1510,"y":2.4},{"x":1512,"y":2.0},{"x":1514,"y":3.0},{"x":1516,"y":2.4},{"x":1518,"y":2.8},{"x":1520,"y":1.4},{"x":1522,"y":2.3},{"x":1524,"y":2.6},{"x":1526,"y":0.8},{"x":1528,"y":2.2},{"x":1530,"y":2.0},{"x":1532,"y":1.8},{"x":1534,"y":1.6},{"x":1536,"y":1.3},{"x":1538,"y":1.5},{"x":1540,"y":1.1},{"x":1542,"y":1.4},{"x":1544,"y":1.0},{"x":1546,"y":0.4},{"x":1547,"y":-0.5},{"x":1548.5,"y":0.9},{"x":1550,"y":1.4},{"x":1552,"y":1.0},{"x":1553.5,"y":3.2},{"x":1555,"y":2.2},{"x":1557,"y":2.0},{"x":1559,"y":2.9},{"x":1561,"y":2.1},{"x":1563,"y":2.0},{"x":1565,"y":1.9},{"x":1567,"y":2.6},{"x":1569,"y":1.4},{"x":1571,"y":2.5},{"x":1573,"y":1.8},{"x":1575,"y":2.8},{"x":1577,"y":2.1},{"x":1579,"y":2.4},{"x":1581,"y":1.5},{"x":1583,"y":2.6},{"x":1585,"y":2.0},{"x":1587,"y":2.9},{"x":1589,"y":1.7},{"x":1591,"y":2.3},{"x":1593,"y":2.0},{"x":1595,"y":3.4},{"x":1597,"y":2.2},{"x":1599,"y":2.0},{"x":1601,"y":1.8},{"x":1603,"y":2.4},{"x":1605,"y":1.5},{"x":1607,"y":2.2},{"x":1609,"y":2.6},{"x":1611,"y":1.6},{"x":1613,"y":2.1},{"x":1615,"y":3.0},{"x":1617,"y":2.2},{"x":1619,"y":1.3},{"x":1621,"y":2.3},{"x":1623,"y":1.9},{"x":1625,"y":2.9},{"x":1627,"y":2.0},{"x":1629,"y":1.5},{"x":1631,"y":2.8},{"x":1633,"y":2.4},{"x":1635,"y":3.6},{"x":1637,"y":2.2},{"x":1639,"y":1.8},{"x":1641,"y":2.6},{"x":1643,"y":1.6},{"x":1645,"y":3.0},{"x":1647,"y":2.0},{"x":1649,"y":2.4},{"x":1651,"y":1.7},{"x":1653,"y":2.5},{"x":1655,"y":1.9},{"x":1657,"y":3.3},{"x":1659,"y":2.6},{"x":1660.5,"y":4.4},{"x":1662,"y":1.8},{"x":1664,"y":2.3},{"x":1666,"y":1.4},{"x":1668,"y":2.2},{"x":1670,"y":1.8},{"x":1672,"y":2.5},{"x":1674,"y":2.0},{"x":1676,"y":2.6},{"x":1678,"y":1.7},{"x":1680,"y":3.5},{"x":1682,"y":2.6},{"x":1684,"y":2.2},{"x":1686,"y":1.4},{"x":1688,"y":0.6},{"x":1690,"y":-0.3},{"x":1692,"y":2.2},{"x":1694,"y":1.6},{"x":1696,"y":2.8},{"x":1698,"y":1.9},{"x":1700,"y":2.5},{"x":1701.5,"y":1.9},{"x":1703,"y":1.5},{"x":1704.5,"y":2.4},{"x":1706,"y":2.9},{"x":1707.5,"y":2.2},{"x":1709,"y":1.7},{"x":1710.5,"y":2.4},{"x":1712,"y":3.0},{"x":1713.5,"y":2.3},{"x":1715,"y":2.0},{"x":1716.5,"y":2.5},{"x":1718,"y":2.6},{"x":1719.5,"y":1.9},{"x":1721,"y":1.4},{"x":1722.5,"y":2.0},{"x":1724,"y":2.3},{"x":1725.5,"y":2.6},{"x":1727,"y":1.8},{"x":1728.5,"y":2.2},{"x":1730,"y":3.3},{"x":1731.5,"y":2.4},{"x":1733,"y":2.0},{"x":1734.5,"y":2.6},{"x":1736,"y":2.5},{"x":1737.5,"y":1.9},{"x":1739,"y":1.5},{"x":1740.5,"y":2.2},{"x":1742,"y":-0.5},{"x":1743.5,"y":1.5},{"x":1745,"y":2.1},{"x":1746.5,"y":2.6},{"x":1748,"y":2.2},{"x":1749,"y":3.6},{"x":1750.5,"y":2.0},{"x":1752,"y":2.3},{"x":1753.5,"y":1.9},{"x":1755,"y":2.3},{"x":1756.5,"y":1.8},{"x":1758,"y":2.0},{"x":1759.5,"y":2.4},{"x":1761,"y":2.2},{"x":1762.5,"y":1.6},{"x":1764,"y":2.0},{"x":1765.5,"y":2.2},{"x":1767,"y":1.7},{"x":1768.5,"y":1.9},{"x":1770,"y":2.2},{"x":1771.5,"y":2.5},{"x":1773,"y":2.0},{"x":1774.5,"y":1.7},{"x":1776,"y":2.0},{"x":1777.5,"y":2.1},{"x":1779,"y":1.6},{"x":1780.5,"y":1.5},{"x":1782,"y":2.0},{"x":1783.5,"y":2.3},{"x":1785,"y":1.9},{"x":1786.5,"y":1.8},{"x":1788,"y":2.2},{"x":1789.5,"y":2.0},{"x":1791,"y":1.6},{"x":1792.5,"y":1.4},{"x":1794,"y":2.0},{"x":1795.5,"y":2.4},{"x":1797,"y":2.1},{"x":1798.5,"y":2.9},{"x":1800,"y":2.0},{"x":1801,"y":2.0},{"x":1803,"y":4.8},{"x":1805,"y":1.0},{"x":1808,"y":4.9},{"x":1810,"y":2.2},{"x":1812,"y":-0.5},{"x":1814,"y":2.6},{"x":1816,"y":1.6},{"x":1818.5,"y":5.1},{"x":1820,"y":2.0},{"x":1822,"y":3.0},{"x":1824,"y":1.6},{"x":1826,"y":2.6},{"x":1828,"y":1.2},{"x":1830,"y":3.2},{"x":1832,"y":2.0},{"x":1833.5,"y":4.6},{"x":1835,"y":1.8},{"x":1836.5,"y":4.4},{"x":1838,"y":-0.2},{"x":1840,"y":2.6},{"x":1842,"y":1.5},{"x":1844,"y":2.2},{"x":1846,"y":1.2},{"x":1848,"y":2.5},{"x":1850,"y":1.6},{"x":1852,"y":2.3},{"x":1854,"y":1.8},{"x":1856,"y":2.6},{"x":1858,"y":1.5},{"x":1860,"y":2.1},{"x":1862,"y":2.4},{"x":1863.5,"y":3.3},{"x":1865,"y":2.2},{"x":1867,"y":1.8},{"x":1869,"y":2.0},{"x":1871,"y":1.5},{"x":1873,"y":2.4},{"x":1875,"y":0.8},{"x":1877,"y":1.6},{"x":1879,"y":2.2},{"x":1881,"y":5.2},{"x":1882.5,"y":0.3},{"x":1884,"y":2.0},{"x":1886,"y":1.4},{"x":1888,"y":2.6},{"x":1890,"y":1.7},{"x":1892,"y":1.5},{"x":1894,"y":1.8},{"x":1896,"y":1.4},{"x":1898,"y":1.6},{"x":1900,"y":1.3},{"x":1902,"y":1.5},{"x":1904,"y":2.8},{"x":1906,"y":3.6},{"x":1908,"y":4.2},{"x":1909.5,"y":3.5},{"x":1911,"y":4.8},{"x":1912.5,"y":3.6},{"x":1914,"y":2.6},{"x":1916,"y":1.3},{"x":1918,"y":0.9},{"x":1920,"y":2.0},{"x":1922,"y":-0.5},{"x":1924,"y":2.6},{"x":1926,"y":1.2},{"x":1928,"y":2.8},{"x":1930,"y":1.6},{"x":1932,"y":3.3},{"x":1933.5,"y":3.6},{"x":1935,"y":2.1},{"x":1937,"y":0.6},{"x":1939,"y":4.3},{"x":1940.5,"y":2.0},{"x":1942,"y":5.4},{"x":1943.5,"y":2.2},{"x":1945,"y":3.0},{"x":1947,"y":1.8},{"x":1949,"y":-0.3}],
"s6":[{"x":1400,"y":2.2},{"x":1401.5,"y":3.1},{"x":1403,"y":1.9},{"x":1404.5,"y":3.1},{"x":1406,"y":2.7},{"x":1407.5,"y":3.6},{"x":1409,"y":4.2},{"x":1410.5,"y":4.0},{"x":1412,"y":2.3},{"x":1413.5,"y":3.7},{"x":1415,"y":3.5},{"x":1417,"y":3.7},{"x":1418.5,"y":2.5},{"x":1420,"y":3.6},{"x":1422,"y":3.3},{"x":1424,"y":3.8},{"x":1426,"y":2.8},{"x":1428,"y":3.4},{"x":1430,"y":2.6},{"x":1432,"y":3.3},{"x":1433.5,"y":4.1},{"x":1435,"y":2.9},{"x":1437,"y":3.2},{"x":1439,"y":2.6},{"x":1441,"y":3.6},{"x":1443,"y":2.9},{"x":1445,"y":3.3},{"x":1447,"y":3.0},{"x":1449,"y":3.4},{"x":1451,"y":2.8},{"x":1453,"y":3.2},{"x":1455,"y":3.0},{"x":1457,"y":3.4},{"x":1459,"y":2.9},{"x":1460.5,"y":3.7},{"x":1462,"y":3.1},{"x":1464,"y":2.8},{"x":1466,"y":3.2},{"x":1468,"y":2.9},{"x":1470,"y":2.6},{"x":1472,"y":2.3},{"x":1474,"y":2.9},{"x":1476,"y":3.3},{"x":1478,"y":3.0},{"x":1480,"y":3.5},{"x":1482,"y":2.9},{"x":1484,"y":3.2},{"x":1486,"y":2.8},{"x":1488,"y":3.4},{"x":1490,"y":2.7},{"x":1492,"y":3.0},{"x":1494,"y":2.6},{"x":1496,"y":3.1},{"x":1498,"y":2.8},{"x":1500,"y":3.1},{"x":1502,"y":2.1},{"x":1504,"y":3.0},{"x":1505.5,"y":2.6},{"x":1507,"y":4.3},{"x":1508.5,"y":2.5},{"x":1510,"y":2.8},{"x":1512,"y":4.2},{"x":1513.5,"y":2.5},{"x":1515,"y":2.7},{"x":1517,"y":2.5},{"x":1519,"y":2.9},{"x":1521,"y":2.4},{"x":1523,"y":2.8},{"x":1525,"y":3.4},{"x":1527,"y":2.6},{"x":1529,"y":3.0},{"x":1531,"y":2.3},{"x":1533,"y":3.1},{"x":1535,"y":2.5},{"x":1537,"y":2.7},{"x":1539,"y":2.2},{"x":1541,"y":2.4},{"x":1543,"y":1.6},{"x":1545,"y":1.4},{"x":1547,"y":1.3},{"x":1549,"y":1.6},{"x":1551,"y":2.4},{"x":1553,"y":3.0},{"x":1554.5,"y":3.6},{"x":1556,"y":3.1},{"x":1558,"y":2.6},{"x":1560,"y":2.9},{"x":1562,"y":2.5},{"x":1564,"y":2.8},{"x":1566,"y":2.1},{"x":1568,"y":3.0},{"x":1570,"y":2.2},{"x":1572,"y":3.1},{"x":1574,"y":2.4},{"x":1576,"y":2.8},{"x":1578,"y":2.0},{"x":1580,"y":2.9},{"x":1582,"y":2.6},{"x":1584,"y":3.2},{"x":1586,"y":2.5},{"x":1588,"y":2.8},{"x":1590,"y":2.3},{"x":1592,"y":2.9},{"x":1594,"y":2.6},{"x":1596,"y":2.4},{"x":1598,"y":2.9},{"x":1600,"y":2.5},{"x":1602,"y":2.8},{"x":1604,"y":2.3},{"x":1606,"y":2.7},{"x":1608,"y":2.4},{"x":1610,"y":3.0},{"x":1612,"y":2.5},{"x":1614,"y":2.3},{"x":1616,"y":2.9},{"x":1618,"y":2.6},{"x":1620,"y":2.2},{"x":1622,"y":2.7},{"x":1624,"y":2.4},{"x":1626,"y":2.8},{"x":1628,"y":2.4},{"x":1630,"y":2.6},{"x":1632,"y":2.3},{"x":1634,"y":2.6},{"x":1636,"y":2.9},{"x":1638,"y":3.2},{"x":1640,"y":3.5},{"x":1642,"y":3.0},{"x":1644,"y":2.7},{"x":1646,"y":2.5},{"x":1648,"y":2.8},{"x":1650,"y":2.4},{"x":1652,"y":2.7},{"x":1654,"y":2.5},{"x":1656,"y":2.7},{"x":1658,"y":2.3},{"x":1660,"y":2.6},{"x":1662,"y":2.4},{"x":1664,"y":3.2},{"x":1666,"y":3.0},{"x":1668,"y":2.7},{"x":1670,"y":2.4},{"x":1672,"y":2.6},{"x":1674,"y":2.3},{"x":1676,"y":2.5},{"x":1678,"y":2.6},{"x":1680,"y":2.3},{"x":1681.5,"y":2.6},{"x":1683,"y":2.5},{"x":1684.5,"y":2.1},{"x":1686,"y":2.2},{"x":1687.5,"y":2.5},{"x":1689,"y":2.6},{"x":1690.5,"y":2.2},{"x":1692,"y":2.4},{"x":1693.5,"y":2.6},{"x":1695,"y":2.2},{"x":1696.5,"y":2.0},{"x":1698,"y":2.6},{"x":1699.5,"y":2.4},{"x":1701,"y":2.3},{"x":1702.5,"y":2.5},{"x":1704,"y":2.8},{"x":1705.5,"y":2.3},{"x":1707,"y":2.4},{"x":1708.5,"y":2.6},{"x":1710,"y":2.2},{"x":1711.5,"y":2.0},{"x":1713,"y":2.6},{"x":1714.5,"y":2.3},{"x":1716,"y":2.4},{"x":1717.5,"y":2.6},{"x":1719,"y":2.1},{"x":1720.5,"y":2.3},{"x":1722,"y":2.5},{"x":1723.5,"y":2.2},{"x":1725,"y":2.3},{"x":1726.5,"y":2.5},{"x":1728,"y":2.6},{"x":1729.5,"y":2.2},{"x":1731,"y":2.3},{"x":1732.5,"y":2.5},{"x":1734,"y":2.1},{"x":1735.5,"y":2.0},{"x":1737,"y":2.5},{"x":1738.5,"y":2.3},{"x":1740,"y":2.3},{"x":1741.5,"y":2.5},{"x":1743,"y":2.6},{"x":1744.5,"y":2.2},{"x":1746,"y":2.2},{"x":1747.5,"y":2.5},{"x":1749,"y":2.4},{"x":1750.5,"y":2.1},{"x":1752,"y":2.2},{"x":1753.5,"y":2.4},{"x":1755,"y":2.5},{"x":1756.5,"y":2.1},{"x":1758,"y":2.2},{"x":1759.5,"y":2.4},{"x":1761,"y":2.4},{"x":1762.5,"y":2.0},{"x":1764,"y":2.1},{"x":1765.5,"y":2.4},{"x":1767,"y":2.6},{"x":1768.5,"y":3.2},{"x":1770,"y":2.7},{"x":1771.5,"y":2.4},{"x":1773,"y":2.2},{"x":1774.5,"y":2.0},{"x":1776,"y":2.4},{"x":1777.5,"y":2.3},{"x":1779,"y":2.0},{"x":1780.5,"y":1.9},{"x":1782,"y":2.3},{"x":1783.5,"y":2.1},{"x":1785,"y":1.8},{"x":1786.5,"y":2.0},{"x":1788,"y":2.2},{"x":1789.5,"y":2.3},{"x":1791,"y":1.9},{"x":1792.5,"y":1.8},{"x":1794,"y":2.4},{"x":1795.5,"y":2.2},{"x":1797,"y":2.1},{"x":1798.5,"y":1.9},{"x":1800,"y":2.3},{"x":1801.5,"y":2.2},{"x":1803,"y":2.0},{"x":1804.5,"y":2.3},{"x":1806,"y":2.4},{"x":1807.5,"y":2.0},{"x":1809,"y":2.2},{"x":1810.5,"y":2.5},{"x":1812,"y":2.6},{"x":1813.5,"y":2.2},{"x":1815,"y":2.1},{"x":1816.5,"y":2.4},{"x":1818,"y":2.3},{"x":1819.5,"y":1.9},{"x":1821,"y":1.9},{"x":1822.5,"y":2.2},{"x":1824,"y":2.4},{"x":1825.5,"y":2.0},{"x":1827,"y":2.1},{"x":1828.5,"y":2.4},{"x":1830,"y":2.3},{"x":1831.5,"y":1.9},{"x":1833,"y":1.9},{"x":1834.5,"y":2.2},{"x":1836,"y":2.6},{"x":1837.5,"y":2.1},{"x":1839,"y":2.1},{"x":1840.5,"y":2.4},{"x":1842,"y":2.3},{"x":1843.5,"y":1.9},{"x":1845,"y":2.0},{"x":1846.5,"y":2.3},{"x":1848,"y":2.7},{"x":1849.5,"y":2.8},{"x":1851,"y":2.1},{"x":1852.5,"y":2.0},{"x":1854,"y":2.4},{"x":1855.5,"y":2.2},{"x":1857,"y":1.9},{"x":1858.5,"y":2.1},{"x":1860,"y":2.5},{"x":1861.5,"y":2.2},{"x":1863,"y":2.0},{"x":1864.5,"y":2.3},{"x":1866,"y":2.3},{"x":1867.5,"y":1.9},{"x":1869,"y":1.9},{"x":1870.5,"y":2.2},{"x":1872,"y":2.4},{"x":1873.5,"y":2.1},{"x":1875,"y":2.0},{"x":1876.5,"y":2.3},{"x":1878,"y":2.2},{"x":1879.5,"y":1.9},{"x":1881,"y":2.0},{"x":1882.5,"y":2.3},{"x":1884,"y":2.4},{"x":1885.5,"y":2.1},{"x":1887,"y":2.1},{"x":1888.5,"y":2.3},{"x":1890,"y":2.0},{"x":1891.5,"y":2.2},{"x":1893,"y":2.3},{"x":1894.5,"y":2.0},{"x":1896,"y":2.1},{"x":1897.5,"y":2.3},{"x":1899,"y":2.2},{"x":1900.5,"y":2.1},{"x":1902,"y":2.4},{"x":1903.5,"y":2.6},{"x":1905,"y":3.2},{"x":1906.5,"y":3.6},{"x":1908,"y":3.0},{"x":1909.5,"y":2.4},{"x":1911,"y":2.0},{"x":1912.5,"y":2.1},{"x":1914,"y":1.9},{"x":1915.5,"y":1.7},{"x":1917,"y":1.7},{"x":1918.5,"y":1.9},{"x":1920,"y":2.0},{"x":1921.5,"y":1.7},{"x":1923,"y":1.8},{"x":1924.5,"y":1.9},{"x":1926,"y":1.7},{"x":1927.5,"y":1.6},{"x":1929,"y":1.9},{"x":1930.5,"y":1.8},{"x":1932,"y":1.7},{"x":1933.5,"y":1.6},{"x":1935,"y":1.8},{"x":1936.5,"y":1.7},{"x":1938,"y":1.6},{"x":1939.5,"y":1.8},{"x":1941,"y":1.8},{"x":1942.5,"y":1.6},{"x":1944,"y":1.6},{"x":1945.5,"y":1.7},{"x":1947,"y":1.7},{"x":1948.5,"y":1.5},{"x":1950,"y":1.6}],
"s7":[{"x":1400,"y":0.8},{"x":1401.5,"y":0.6},{"x":1403,"y":-0.5},{"x":1404.5,"y":0.8},{"x":1406,"y":2.2},{"x":1407.5,"y":2.0},{"x":1409,"y":1.6},{"x":1410.5,"y":0.3},{"x":1412,"y":1.4},{"x":1413.5,"y":4.3},{"x":1415,"y":0.5},{"x":1416.5,"y":2.2},{"x":1418,"y":0.6},{"x":1419.5,"y":-1.0},{"x":1421,"y":1.5},{"x":1422.5,"y":0.2},{"x":1424,"y":1.4},{"x":1425.5,"y":-0.8},{"x":1427,"y":1.6},{"x":1428.5,"y":0.4},{"x":1430,"y":2.1},{"x":1431.5,"y":0.0},{"x":1433,"y":1.8},{"x":1434.5,"y":-0.6},{"x":1436,"y":-1.0},{"x":1437.5,"y":1.6},{"x":1439,"y":0.5},{"x":1440.5,"y":1.9},{"x":1442,"y":0.7},{"x":1443.5,"y":3.1},{"x":1445,"y":0.2},{"x":1446.5,"y":1.6},{"x":1448,"y":-0.3},{"x":1449.5,"y":1.8},{"x":1451,"y":0.6},{"x":1452.5,"y":1.2},{"x":1454,"y":-0.4},{"x":1455.5,"y":1.5},{"x":1457,"y":0.8},{"x":1458.5,"y":2.0},{"x":1460,"y":0.4},{"x":1461.5,"y":1.6},{"x":1463,"y":-0.7},{"x":1465,"y":1.3},{"x":1467,"y":0.6},{"x":1469,"y":1.8},{"x":1471,"y":0.7},{"x":1473,"y":1.1},{"x":1475,"y":0.2},{"x":1477,"y":1.3},{"x":1479,"y":0.5},{"x":1481,"y":1.0},{"x":1483,"y":0.3},{"x":1485,"y":1.2},{"x":1487,"y":-0.2},{"x":1489,"y":1.0},{"x":1491,"y":2.9},{"x":1492.5,"y":0.4},{"x":1494,"y":2.7},{"x":1495.5,"y":-0.3},{"x":1497,"y":1.6},{"x":1498.5,"y":-1.2},{"x":1500,"y":1.4},{"x":1501.5,"y":-1.3},{"x":1503,"y":1.2},{"x":1504.5,"y":0.3},{"x":1506,"y":1.5},{"x":1507.5,"y":-0.8},{"x":1509,"y":1.2},{"x":1510.5,"y":-1.1},{"x":1512,"y":0.9},{"x":1513.5,"y":1.7},{"x":1515,"y":0.2},{"x":1516.5,"y":2.9},{"x":1518,"y":0.5},{"x":1519.5,"y":1.6},{"x":1521,"y":-0.4},{"x":1522.5,"y":1.8},{"x":1524,"y":0.2},{"x":1525.5,"y":2.2},{"x":1527,"y":-0.6},{"x":1528.5,"y":1.6},{"x":1530,"y":0.4},{"x":1531.5,"y":2.4},{"x":1533,"y":-0.5},{"x":1534.5,"y":1.3},{"x":1536,"y":0.3},{"x":1537.5,"y":1.4},{"x":1539,"y":-0.3},{"x":1540.5,"y":1.6},{"x":1542,"y":0.6},{"x":1543.5,"y":1.7},{"x":1545,"y":-0.3},{"x":1546.5,"y":0.7},{"x":1548,"y":0.5},{"x":1549.5,"y":4.1},{"x":1551,"y":0.6},{"x":1552.5,"y":3.8},{"x":1554,"y":1.0},{"x":1555.5,"y":2.8},{"x":1557,"y":0.3},{"x":1558.5,"y":1.6},{"x":1560,"y":-0.2},{"x":1561.5,"y":1.5},{"x":1563,"y":0.2},{"x":1564.5,"y":1.4},{"x":1566,"y":-0.5},{"x":1567.5,"y":1.2},{"x":1569,"y":0.4},{"x":1570.5,"y":0.9},{"x":1572,"y":-0.4},{"x":1573.5,"y":1.3},{"x":1575,"y":0.2},{"x":1576.5,"y":3.1},{"x":1578,"y":0.6},{"x":1579.5,"y":1.9},{"x":1581,"y":-0.3},{"x":1582.5,"y":1.0},{"x":1584,"y":0.4},{"x":1585.5,"y":2.4},{"x":1587,"y":0.3},{"x":1588.5,"y":4.0},{"x":1590,"y":0.5},{"x":1591.5,"y":3.2},{"x":1593,"y":-0.6},{"x":1594.5,"y":1.8},{"x":1596,"y":0.6},{"x":1597.5,"y":2.2},{"x":1599,"y":-1.5},{"x":1600.5,"y":4.7},{"x":1602,"y":0.7},{"x":1603.5,"y":2.3},{"x":1605,"y":0.2},{"x":1606.5,"y":1.5},{"x":1608,"y":0.8},{"x":1609.5,"y":-0.6},{"x":1611,"y":1.0},{"x":1612.5,"y":-1.5},{"x":1614,"y":0.6},{"x":1615.5,"y":-1.5},{"x":1617,"y":1.1},{"x":1618.5,"y":0.0},{"x":1620,"y":2.6},{"x":1621.5,"y":0.3},{"x":1623,"y":1.2},{"x":1624.5,"y":-0.8},{"x":1626,"y":0.6},{"x":1627.5,"y":1.2},{"x":1629,"y":0.2},{"x":1630.5,"y":1.6},{"x":1632,"y":0.4},{"x":1633.5,"y":0.9},{"x":1635,"y":-0.2},{"x":1636.5,"y":1.0},{"x":1638,"y":0.4},{"x":1639.5,"y":2.9},{"x":1641,"y":0.8},{"x":1642.5,"y":1.4},{"x":1644,"y":0.1},{"x":1645.5,"y":1.2},{"x":1647,"y":2.0},{"x":1648.5,"y":0.5},{"x":1650,"y":1.2},{"x":1651.5,"y":0.2},{"x":1653,"y":0.9},{"x":1654.5,"y":0.4},{"x":1656,"y":1.3},{"x":1657.5,"y":-0.4},{"x":1659,"y":0.6},{"x":1660.5,"y":0.9},{"x":1662,"y":0.3},{"x":1663.5,"y":1.1},{"x":1665,"y":-0.5},{"x":1666.5,"y":0.8},{"x":1668,"y":0.5},{"x":1669.5,"y":1.0},{"x":1671,"y":-0.6},{"x":1672.5,"y":0.9},{"x":1674,"y":1.1},{"x":1675.5,"y":-0.8},{"x":1677,"y":0.5},{"x":1678.5,"y":0.8},{"x":1680,"y":2.8},{"x":1681.5,"y":-0.9},{"x":1683,"y":1.4},{"x":1684.5,"y":0.6},{"x":1686,"y":2.0},{"x":1687.5,"y":-0.4},{"x":1689,"y":5.8},{"x":1690.5,"y":0.6},{"x":1692,"y":3.0},{"x":1693.5,"y":0.0},{"x":1695,"y":4.3},{"x":1696.5,"y":0.4},{"x":1698,"y":-1.5},{"x":1699.5,"y":0.2},{"x":1701,"y":-1.5},{"x":1702.5,"y":0.6},{"x":1704,"y":-1.5},{"x":1705.5,"y":2.0},{"x":1707,"y":1.2},{"x":1708.5,"y":5.6},{"x":1710,"y":0.8},{"x":1711.5,"y":2.8},{"x":1713,"y":5.3},{"x":1714.5,"y":0.4},{"x":1716,"y":2.2},{"x":1717.5,"y":-1.5},{"x":1719,"y":1.0},{"x":1720.5,"y":-0.3},{"x":1722,"y":1.6},{"x":1723.5,"y":0.2},{"x":1725,"y":1.4},{"x":1726.5,"y":0.4},{"x":1728,"y":3.3},{"x":1729.5,"y":-0.6},{"x":1731,"y":1.6},{"x":1732.5,"y":-1.5},{"x":1734,"y":1.2},{"x":1735.5,"y":-1.5},{"x":1737,"y":0.8},{"x":1738.5,"y":2.0},{"x":1740,"y":-1.0},{"x":1741.5,"y":4.3},{"x":1743,"y":0.2},{"x":1744.5,"y":2.4},{"x":1746,"y":-0.8},{"x":1747.5,"y":1.6},{"x":1749,"y":5.7},{"x":1750.5,"y":0.4},{"x":1752,"y":1.8},{"x":1753.5,"y":-1.0},{"x":1755,"y":1.5},{"x":1756.5,"y":0.2},{"x":1758,"y":2.0},{"x":1759.5,"y":0.8},{"x":1761,"y":-1.5},{"x":1762.5,"y":2.2},{"x":1764,"y":0.4},{"x":1765.5,"y":1.3},{"x":1767,"y":0.5},{"x":1769,"y":0.8},{"x":1771,"y":0.5},{"x":1773,"y":0.9},{"x":1774.5,"y":3.9},{"x":1776,"y":0.4},{"x":1777.5,"y":2.4},{"x":1779,"y":-0.6},{"x":1780.5,"y":3.0},{"x":1782,"y":-1.5},{"x":1783.5,"y":3.6},{"x":1785,"y":0.4},{"x":1786.5,"y":3.4},{"x":1788,"y":-1.5},{"x":1789.5,"y":3.8},{"x":1791,"y":0.2},{"x":1792.5,"y":6.5},{"x":1794,"y":-1.5},{"x":1795.5,"y":3.0},{"x":1797,"y":0.0},{"x":1798.5,"y":4.8},{"x":1800,"y":-1.5},{"x":1801.5,"y":3.9},{"x":1803,"y":-0.5},{"x":1804.5,"y":5.0},{"x":1806,"y":-1.5},{"x":1807.5,"y":4.2},{"x":1809,"y":-0.8},{"x":1810.5,"y":3.3},{"x":1812,"y":-1.5},{"x":1813.5,"y":6.5},{"x":1815,"y":-0.6},{"x":1816.5,"y":6.5},{"x":1818,"y":-1.5},{"x":1819.5,"y":5.2},{"x":1821,"y":0.3},{"x":1822.5,"y":6.5},{"x":1824,"y":-1.5},{"x":1825.5,"y":6.5},{"x":1827,"y":-0.9},{"x":1828.5,"y":4.5},{"x":1830,"y":-1.5},{"x":1831.5,"y":6.5},{"x":1833,"y":0.0},{"x":1834.5,"y":6.5},{"x":1836,"y":-1.5},{"x":1837.5,"y":5.5},{"x":1839,"y":-1.2},{"x":1840.5,"y":6.5},{"x":1842,"y":-1.5},{"x":1843.5,"y":4.0},{"x":1845,"y":-1.5},{"x":1846.5,"y":6.5},{"x":1848,"y":-0.4},{"x":1849.5,"y":6.5},{"x":1851,"y":-1.5},{"x":1852.5,"y":6.5},{"x":1853.5,"y":-0.8}]
},
"vconcat":[
{"width":1097,"height":131,"layer":[
{"data":{"values":[{"x":1549},{"x":1640},{"x":1663},{"x":1909}]},"mark":{"type":"rule"},"encoding":{"x":{"field":"x","type":"quantitative","scale":{"domain":[1400,1950],"nice":false,"zero":false},"axis":{"values":[1400,1500,1600,1700,1800,1900],"labels":false,"title":null}}}},
{"data":{"name":"s1"},"mark":{"type":"line","interpolate":"step","color":"black","strokeWidth":1.7,"clip":true},"encoding":{"x":{"field":"x","type":"quantitative","scale":{"domain":[1400,1950],"nice":false,"zero":false},"axis":{"values":[1400,1500,1600,1700,1800,1900],"labels":false,"title":null}},"y":{"field":"y","type":"quantitative","scale":{"domain":[-0.5,5],"nice":false,"zero":false},"axis":{"values":[0,2,4],"title":null}}}},
{"data":{"values":[{"x":1433.5,"y":4.09,"t":"UDS025482"},{"x":1433.5,"y":3.61,"t":"z = 3.52"}]},"mark":{"type":"text","align":"left","baseline":"alphabetic","fontSize":15.5},"encoding":{"x":{"field":"x","type":"quantitative"},"y":{"field":"y","type":"quantitative"},"text":{"field":"t"}}},
{"data":{"values":[{"x":1552,"y":4.12,"t":"C IV"},{"x":1642.2,"y":4.12,"t":"He II"},{"x":1664.8,"y":4.12,"t":"O III]"},{"x":1911,"y":4.12,"t":"C III]"}]},"mark":{"type":"text","align":"left","baseline":"alphabetic","fontSize":17},"encoding":{"x":{"field":"x","type":"quantitative"},"y":{"field":"y","type":"quantitative"},"text":{"field":"t"}}}
]},
{"width":1097,"height":131,"layer":[
{"data":{"values":[{"x":1549},{"x":1640},{"x":1663},{"x":1909}]},"mark":{"type":"rule"},"encoding":{"x":{"field":"x","type":"quantitative","scale":{"domain":[1400,1950],"nice":false,"zero":false},"axis":{"values":[1400,1500,1600,1700,1800,1900],"labels":false,"title":null}}}},
{"data":{"name":"s2a"},"mark":{"type":"line","interpolate":"step","color":"black","strokeWidth":1.7,"clip":true},"encoding":{"x":{"field":"x","type":"quantitative","scale":{"domain":[1400,1950],"nice":false,"zero":false},"axis":{"values":[1400,1500,1600,1700,1800,1900],"labels":false,"title":null}},"y":{"field":"y","type":"quantitative","scale":{"domain":[0,11.2],"nice":false,"zero":false},"axis":{"values":[0,5,10],"title":null}}}},
{"data":{"name":"s2g"},"mark":{"type":"line","color":"black","strokeWidth":1.7,"clip":true},"encoding":{"x":{"field":"x","type":"quantitative"},"y":{"field":"y","type":"quantitative"}}},
{"data":{"name":"s2b"},"mark":{"type":"line","interpolate":"step","color":"black","strokeWidth":1.7,"clip":true},"encoding":{"x":{"field":"x","type":"quantitative"},"y":{"field":"y","type":"quantitative"}}},
{"data":{"values":[{"x":1433.5,"y":9.35,"t":"UDS137388"},{"x":1433.5,"y":8.38,"t":"z = 2.60"}]},"mark":{"type":"text","align":"left","baseline":"alphabetic","fontSize":15.5},"encoding":{"x":{"field":"x","type":"quantitative"},"y":{"field":"y","type":"quantitative"},"text":{"field":"t"}}}
]},
{"width":1097,"height":131,"layer":[
{"data":{"values":[{"x":1549},{"x":1640},{"x":1663},{"x":1909}]},"mark":{"type":"rule"},"encoding":{"x":{"field":"x","type":"quantitative","scale":{"domain":[1400,1950],"nice":false,"zero":false},"axis":{"values":[1400,1500,1600,1700,1800,1900],"labels":false,"title":null}}}},
{"data":{"name":"s3"},"mark":{"type":"line","interpolate":"step","color":"black","strokeWidth":1.7,"clip":true},"encoding":{"x":{"field":"x","type":"quantitative","scale":{"domain":[1400,1950],"nice":false,"zero":false},"axis":{"values":[1400,1500,1600,1700,1800,1900],"labels":false,"title":null}},"y":{"field":"y","type":"quantitative","scale":{"domain":[-1,4.05],"nice":false,"zero":false},"axis":{"values":[0,2,4],"title":null}}}},
{"data":{"values":[{"x":1433.5,"y":3.21,"t":"UDS145830"},{"x":1433.5,"y":2.78,"t":"z = 3.21"}]},"mark":{"type":"text","align":"left","baseline":"alphabetic","fontSize":15.5},"encoding":{"x":{"field":"x","type":"quantitative"},"y":{"field":"y","type":"quantitative"},"text":{"field":"t"}}}
]},
{"width":1097,"height":131,"layer":[
{"data":{"values":[{"x":1549},{"x":1640},{"x":1663},{"x":1909}]},"mark":{"type":"rule"},"encoding":{"x":{"field":"x","type":"quantitative","scale":{"domain":[1400,1950],"nice":false,"zero":false},"axis":{"values":[1400,1500,1600,1700,1800,1900],"labels":false,"title":null}}}},
{"data":{"name":"s4"},"mark":{"type":"line","interpolate":"step","color":"black","strokeWidth":1.7,"clip":true},"encoding":{"x":{"field":"x","type":"quantitative","scale":{"domain":[1400,1950],"nice":false,"zero":false},"axis":{"values":[1400,1500,1600,1700,1800,1900],"labels":false,"title":null}},"y":{"field":"y","type":"quantitative","scale":{"domain":[-0.5,4.02],"nice":false,"zero":false},"axis":{"values":[0,2,4],"title":"F (He II) [x 10⁻¹⁸ erg/s/cm²]","titleFontSize":22,"titleAngle":-90,"titleX":-76,"titleY":12,"titleAlign":"center","titleBaseline":"middle"}}}},
{"data":{"values":[{"x":1433.5,"y":3.27,"t":"UDS196554"},{"x":1433.5,"y":2.88,"t":"z = 2.62"}]},"mark":{"type":"text","align":"left","baseline":"alphabetic","fontSize":15.5},"encoding":{"x":{"field":"x","type":"quantitative"},"y":{"field":"y","type":"quantitative"},"text":{"field":"t"}}}
]},
{"width":1097,"height":131,"layer":[
{"data":{"values":[{"x":1549},{"x":1640},{"x":1663},{"x":1909}]},"mark":{"type":"rule"},"encoding":{"x":{"field":"x","type":"quantitative","scale":{"domain":[1400,1950],"nice":false,"zero":false},"axis":{"values":[1400,1500,1600,1700,1800,1900],"labels":false,"title":null}}}},
{"data":{"name":"s5"},"mark":{"type":"line","interpolate":"step","color":"black","strokeWidth":1.7,"clip":true},"encoding":{"x":{"field":"x","type":"quantitative","scale":{"domain":[1400,1950],"nice":false,"zero":false},"axis":{"values":[1400,1500,1600,1700,1800,1900],"labels":false,"title":null}},"y":{"field":"y","type":"quantitative","scale":{"domain":[-0.47,5.47],"nice":false,"zero":false},"axis":{"values":[0,2,4],"title":null}}}},
{"data":{"values":[{"x":1433.5,"y":4.49,"t":"UDS200677"},{"x":1433.5,"y":3.97,"t":"z = 3.59"}]},"mark":{"type":"text","align":"left","baseline":"alphabetic","fontSize":15.5},"encoding":{"x":{"field":"x","type":"quantitative"},"y":{"field":"y","type":"quantitative"},"text":{"field":"t"}}}
]},
{"width":1097,"height":131,"layer":[
{"data":{"values":[{"x":1549},{"x":1640},{"x":1663},{"x":1909}]},"mark":{"type":"rule"},"encoding":{"x":{"field":"x","type":"quantitative","scale":{"domain":[1400,1950],"nice":false,"zero":false},"axis":{"values":[1400,1500,1600,1700,1800,1900],"labels":false,"title":null}}}},
{"data":{"name":"s6"},"mark":{"type":"line","interpolate":"step","color":"black","strokeWidth":1.7,"clip":true},"encoding":{"x":{"field":"x","type":"quantitative","scale":{"domain":[1400,1950],"nice":false,"zero":false},"axis":{"values":[1400,1500,1600,1700,1800,1900],"labels":false,"title":null}},"y":{"field":"y","type":"quantitative","scale":{"domain":[1.03,5.5],"nice":false,"zero":false},"axis":{"values":[2,4],"title":null}}}},
{"data":{"values":[{"x":1433.5,"y":4.76,"t":"UDS281893"},{"x":1433.5,"y":4.37,"t":"z = 2.70"}]},"mark":{"type":"text","align":"left","baseline":"alphabetic","fontSize":15.5},"encoding":{"x":{"field":"x","type":"quantitative"},"y":{"field":"y","type":"quantitative"},"text":{"field":"t"}}}
]},
{"width":1097,"height":131,"layer":[
{"data":{"values":[{"x":1549},{"x":1640},{"x":1663},{"x":1909}]},"mark":{"type":"rule"},"encoding":{"x":{"field":"x","type":"quantitative","scale":{"domain":[1400,1950],"nice":false,"zero":false},"axis":{"values":[1400,1500,1600,1700,1800,1900],"labels":true,"format":"d","labelFlush":false,"title":"λ (Angstrom)","titleFontSize":20,"titlePadding":10}}}},
{"data":{"name":"s7"},"mark":{"type":"line","interpolate":"step","color":"black","strokeWidth":1.7,"clip":true},"encoding":{"x":{"field":"x","type":"quantitative","scale":{"domain":[1400,1950],"nice":false,"zero":false},"axis":{"values":[1400,1500,1600,1700,1800,1900],"labels":true,"format":"d","labelFlush":false,"title":"λ (Angstrom)","titleFontSize":20,"titlePadding":10}},"y":{"field":"y","type":"quantitative","scale":{"domain":[-1.5,6.05],"nice":false,"zero":false},"axis":{"values":[0,2.5,5],"format":".1f","title":null}}}},
{"data":{"values":[{"x":1433.5,"y":4.8,"t":"UDS292392"},{"x":1433.5,"y":4.15,"t":"z = 4.56"}]},"mark":{"type":"text","align":"left","baseline":"alphabetic","fontSize":15.5},"encoding":{"x":{"field":"x","type":"quantitative"},"y":{"field":"y","type":"quantitative"},"text":{"field":"t"}}}
]}
]
}
